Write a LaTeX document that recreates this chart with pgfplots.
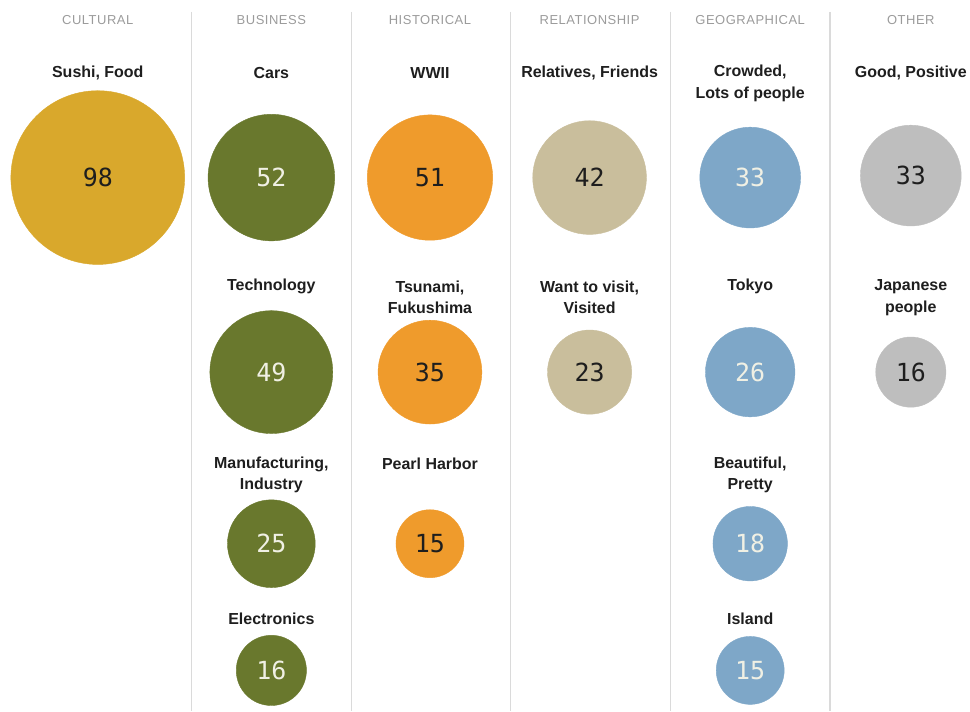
\documentclass[border=0pt]{standalone}
\usepackage{pgfplots}
\pgfplotsset{compat=1.18}
\usepackage{fontspec}
\setmainfont{Liberation Sans}
\newfontfamily\numfont{DejaVu Sans Mono}
\newfontfamily\headfont[LetterSpace=4]{Liberation Sans}
\definecolor{cyel}{RGB}{217,168,44}
\definecolor{colive}{RGB}{105,120,45}
\definecolor{corange}{RGB}{239,155,44}
\definecolor{ctan}{RGB}{201,190,156}
\definecolor{cblue}{RGB}{126,167,200}
\definecolor{cgray}{RGB}{190,190,190}
\definecolor{cdark}{RGB}{30,30,30}
\definecolor{clight}{RGB}{240,240,228}
\definecolor{cline}{RGB}{218,218,218}
\definecolor{chead}{RGB}{155,155,155}

\pgfplotsset{
  bubble/.style={
    scatter, only marks, mark=*,
    point meta=explicit,
    scatter/use mapped color={draw=#1, fill=#1},
    visualization depends on={8.83*sqrt(\thisrow{v}) \as \rad},
    scatter/@pre marker code/.append style={/tikz/mark size=\rad pt},
  },
  nums/.style={
    only marks, mark=none, draw=none,
    point meta=explicit,
    nodes near coords={\pgfmathprintnumber[assume math mode=true]{\pgfplotspointmeta}},
    nodes near coords align={center},
    every node near coord/.append style={font=\numfont\fontsize{25bp}{25bp}\selectfont, text=#1, anchor=center},
  },
}
\tikzset{
  lab/.style={align=center, font=\bfseries\fontsize{16bp}{22bp}\selectfont, text=cdark},
  head/.style={font=\headfont\fontsize{13bp}{15bp}\selectfont, text=chead},
}

\pgfplotstableread{
x y v
98 178 98
}\cultural
\pgfplotstableread{
x y v
272 178 52
272 373 49
272 545 25
272 672 16
}\business
\pgfplotstableread{
x y v
431 178 51
431 373 35
431 545 15
}\historical
\pgfplotstableread{
x y v
591 178 42
591 373 23
}\relationship
\pgfplotstableread{
x y v
752 178 33
752 373 26
752 545 18
752 672 15
}\geographical
\pgfplotstableread{
x y v
913 176 33
913 373 16
}\other

\begin{document}
\begin{tikzpicture}
\begin{axis}[
  scale only axis, width=970bp, height=713bp,
  xmin=0, xmax=970, ymin=0, ymax=713, y dir=reverse,
  hide axis, clip=false,
  /pgf/number format/assume math mode=true,
]
\path (rel axis cs:0,0) (rel axis cs:1,1);
\addplot[cline, line width=1.2bp, forget plot] coordinates {(192,12) (192,713)};
\addplot[cline, line width=1.2bp, forget plot] coordinates {(352,12) (352,713)};
\addplot[cline, line width=1.2bp, forget plot] coordinates {(512,12) (512,713)};
\addplot[cline, line width=1.2bp, forget plot] coordinates {(672,12) (672,713)};
\addplot[cline, line width=1.2bp, forget plot] coordinates {(832,12) (832,713)};

\addplot[bubble=cyel] table[x=x, y=y, meta=v] {\cultural};
\addplot[bubble=colive] table[x=x, y=y, meta=v] {\business};
\addplot[bubble=corange] table[x=x, y=y, meta=v] {\historical};
\addplot[bubble=ctan] table[x=x, y=y, meta=v] {\relationship};
\addplot[bubble=cblue] table[x=x, y=y, meta=v] {\geographical};
\addplot[bubble=cgray] table[x=x, y=y, meta=v] {\other};

\addplot[nums=cdark] table[x=x, y=y, meta=v] {\cultural};
\addplot[nums=clight] table[x=x, y=y, meta=v] {\business};
\addplot[nums=cdark] table[x=x, y=y, meta=v] {\historical};
\addplot[nums=cdark] table[x=x, y=y, meta=v] {\relationship};
\addplot[nums=clight] table[x=x, y=y, meta=v] {\geographical};
\addplot[nums=cdark] table[x=x, y=y, meta=v] {\other};

% headers
\node[head] at (axis cs:98,20) {CULTURAL};
\node[head] at (axis cs:272,20) {BUSINESS};
\node[head] at (axis cs:431,20) {HISTORICAL};
\node[head] at (axis cs:591,20) {RELATIONSHIP};
\node[head] at (axis cs:752,20) {GEOGRAPHICAL};
\node[head] at (axis cs:913,20) {OTHER};

% labels
\node[lab] at (axis cs:98,73) {Sushi, Food};
\node[lab] at (axis cs:272,73) {Cars};
\node[lab] at (axis cs:431,73) {WWII};
\node[lab] at (axis cs:591,73) {Relatives, Friends};
\node[lab] at (axis cs:752,84) {Crowded,\\Lots of people};
\node[lab] at (axis cs:913,73) {Good, Positive};

\node[lab] at (axis cs:272,287) {Technology};
\node[lab] at (axis cs:431,298) {Tsunami,\\Fukushima};
\node[lab] at (axis cs:591,298) {Want to visit,\\Visited};
\node[lab] at (axis cs:752,287) {Tokyo};
\node[lab] at (axis cs:913,298) {Japanese\\people};

\node[lab] at (axis cs:272,476) {Manufacturing,\\Industry};
\node[lab] at (axis cs:431,465) {Pearl Harbor};
\node[lab] at (axis cs:752,476) {Beautiful,\\Pretty};

\node[lab] at (axis cs:272,620) {Electronics};
\node[lab] at (axis cs:752,620) {Island};
\end{axis}
\end{tikzpicture}
\end{document}
